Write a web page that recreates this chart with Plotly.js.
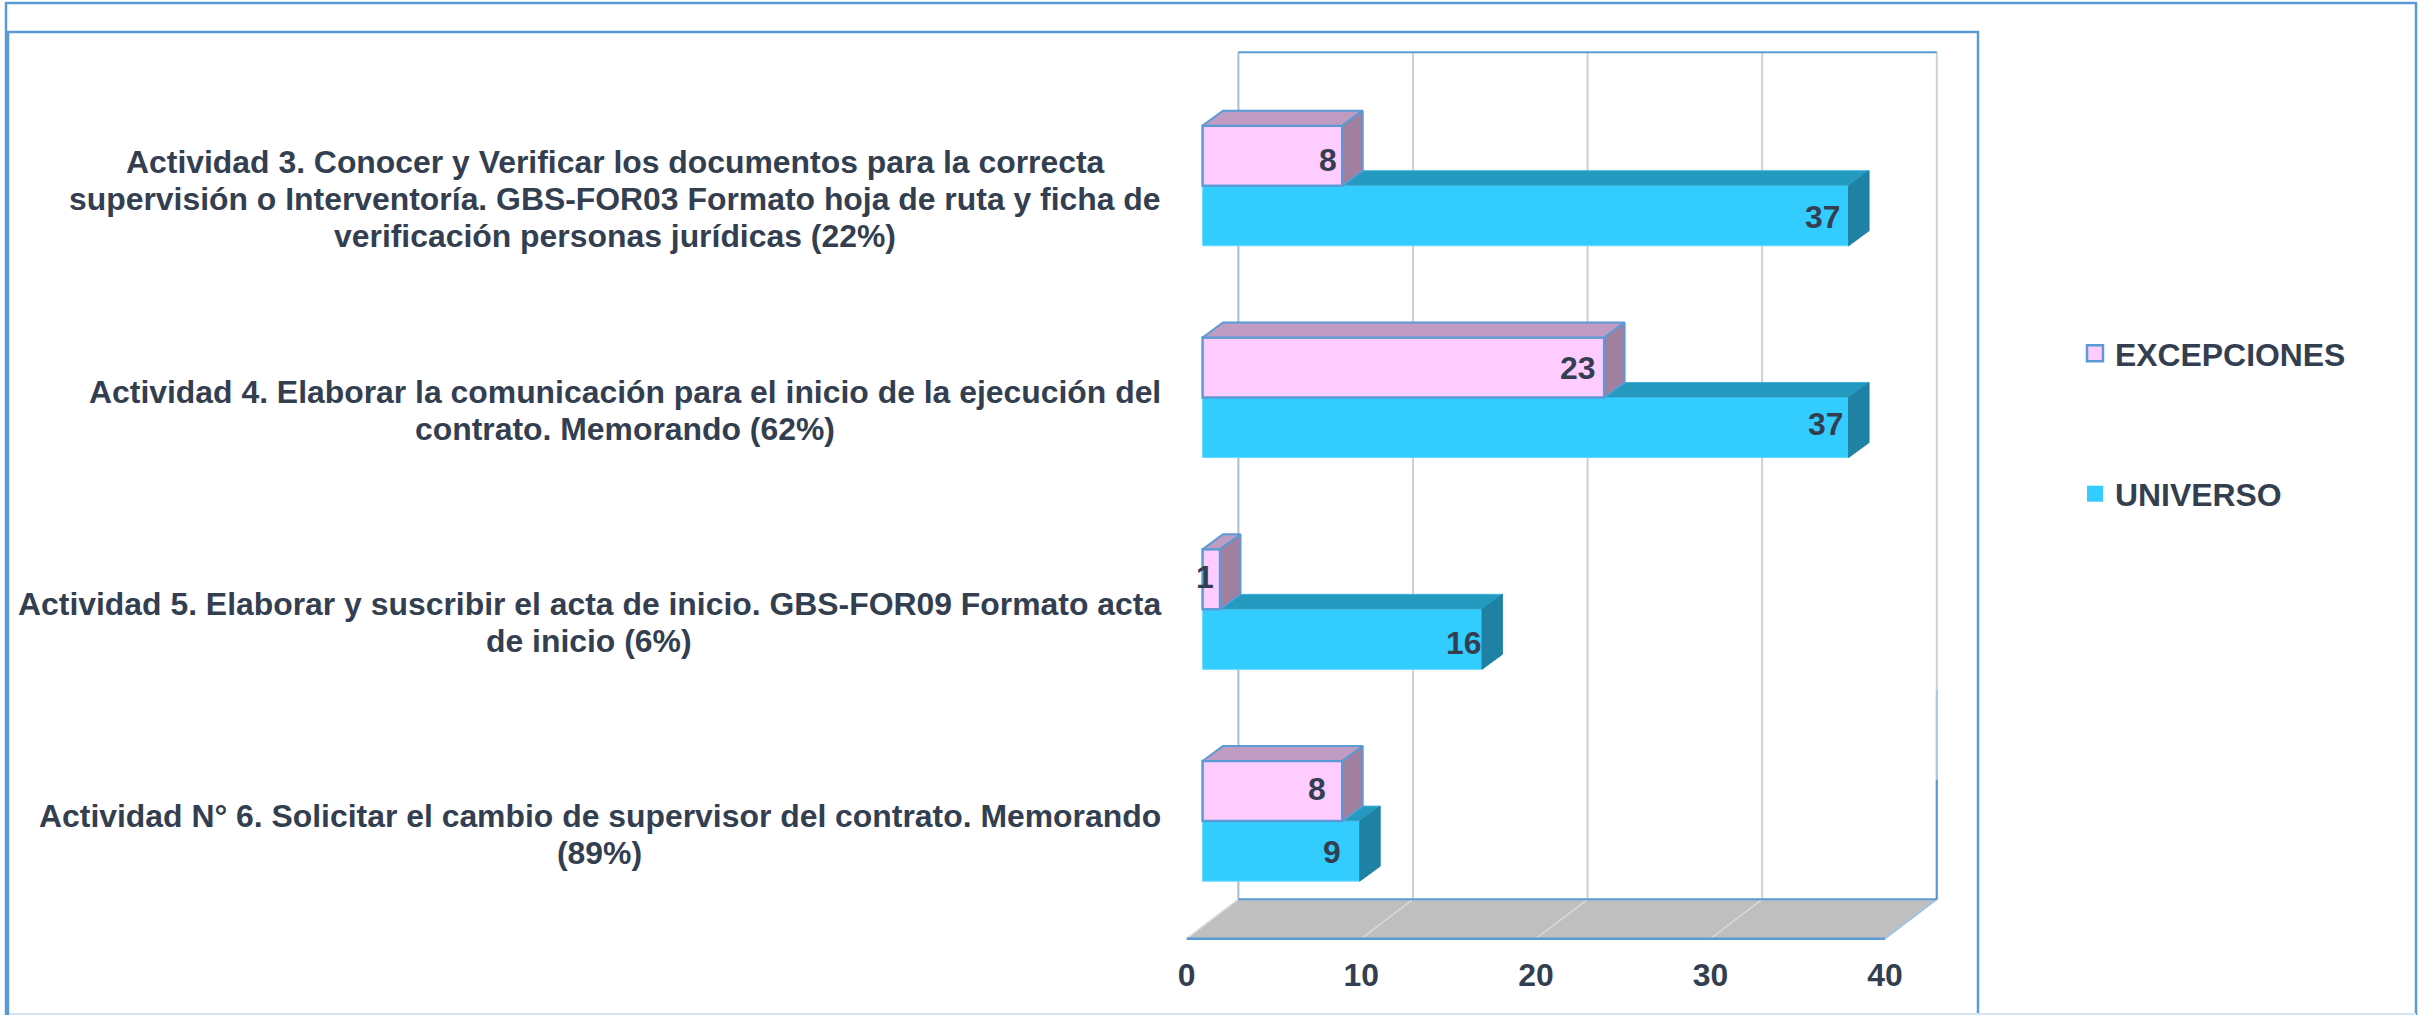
<!DOCTYPE html>
<html><head><meta charset="utf-8"><script src="https://cdn.plot.ly/plotly-3.0.1.min.js"></script>
<style>html,body{margin:0;padding:0;background:#fff;overflow:hidden}#c{width:2430px;height:1015px}</style></head>
<body><div id="c"></div><script>
const categories = [
  "Actividad 3. Conocer y Verificar los documentos para la correcta<br>supervisión o Interventoría. GBS-FOR03 Formato hoja de ruta y ficha de<br>verificación personas jurídicas (22%)",
  "Actividad 4. Elaborar la comunicación para el inicio de la ejecución del<br>contrato. Memorando (62%)",
  "Actividad 5. Elaborar y suscribir el acta de inicio. GBS-FOR09 Formato acta<br>de inicio (6%)",
  "Actividad N° 6. Solicitar el cambio de supervisor del contrato. Memorando<br>(89%)"
];
const excepciones = [8, 23, 1, 8];
const universo = [37, 37, 16, 9];
const xTicks = [0, 10, 20, 30, 40];

// page geometry (px) and 3D look
const W=2430,H=1015,L=1182,R=1942,T=46,B=946;
const pxX=17.46,pxY=211.8,x0px=1186.7,y0px=185.7;
const toX=p=>(p-x0px)/pxX, toY=p=>(p-y0px)/pxY;
const barBase=0.91,barW=0.2835,depthX=1.17,depthY=0.0708;
const wallX=2.96,yFront=toY(938.7),yBack=toY(899.3),yTop=toY(52.3);
const ink='#333f50',blue='#5b9bd5';
const pX=p=>(p-L)/(R-L), pY=p=>(B-p)/(B-T);
const idx=categories.map((_,i)=>i);

function faces(vals,yOff){ // yOff: top edge of the bar relative to category centre
  const top={x:[],y:[]},side={x:[],y:[]};
  vals.forEach((v,i)=>{
    const y1=i+yOff,y2=y1+barW,x1=barBase,x2=barBase+v;
    top.x.push(x1,x2,x2+depthX,x1+depthX,x1,null);
    top.y.push(y1,y1,y1-depthY,y1-depthY,y1,null);
    side.x.push(x2,x2+depthX,x2+depthX,x2,x2,null);
    side.y.push(y1,y1-depthY,y2-depthY,y2,y1,null);
  });
  return {top,side};
}
function poly(d,color,line,lw,xa,ya){
  return {type:'scatter',mode:'lines',x:d.x,y:d.y,fill:'toself',fillcolor:color,
    line:{color:line,width:lw},hoverinfo:'skip',showlegend:false,xaxis:xa,yaxis:ya};
}
const fU=faces(universo,0),fE=faces(excepciones,-barW);
const traces=[
  poly(fU.top,'#259ac0','#3fb4dc',1,'x','y'),
  poly(fU.side,'#1f81a3','#1f81a3',1,'x','y'),
  {type:'bar',orientation:'h',name:'UNIVERSO',x:universo,y:idx,base:barBase,width:barW,offset:0,
   marker:{color:'#33ccff',line:{color:'#66d9ff',width:1}},showlegend:false,hovertext:categories,xaxis:'x',yaxis:'y'},
  poly(fE.top,'#c09bc2',blue,2,'x2','y2'),
  poly(fE.side,'#a07f9f',blue,2,'x2','y2'),
  {type:'bar',orientation:'h',name:'EXCEPCIONES',x:excepciones,y:idx,base:barBase,width:barW,offset:-barW,
   marker:{color:'#ffccff',line:{color:blue,width:2.5}},showlegend:false,hovertext:categories,xaxis:'x2',yaxis:'y2'},
  {type:'scatter',mode:'markers',name:'EXCEPCIONES',x:[null],y:[null],legendgroup:'a',
   marker:{symbol:'square',size:16,color:'#ffccff',line:{color:blue,width:2.5}}},
  {type:'scatter',mode:'markers',name:'UNIVERSO',x:[null],y:[null],legendgroup:'b',
   marker:{symbol:'square',size:16,color:'#33ccff'}}
];

const shapes=[];
const rect=(x1,y1,x2,y2,c,w)=>shapes.push({type:'rect',xref:'paper',yref:'paper',x0:pX(x1),x1:pX(x2),y0:pY(y1),y1:pY(y2),line:{color:c,width:w},fillcolor:'rgba(0,0,0,0)',layer:'below'});
const ln=(x1,y1,x2,y2,c,w)=>shapes.push({type:'line',xref:'x',yref:'y',x0:x1,x1:x2,y0:y1,y1:y2,line:{color:c,width:w},layer:'below'});
rect(6,3,2416,1030,blue,2.5);
rect(8,32,1978,1030,blue,2.5);
shapes.push({type:'line',xref:'paper',yref:'paper',x0:pX(9),x1:pX(2416),y0:pY(1014),y1:pY(1014),line:{color:'#d3e5f5',width:2},layer:'below'});
// floor
shapes.push({type:'path',xref:'x',yref:'y',layer:'below',fillcolor:'#bfbfbf',line:{width:0},
  path:`M ${xTicks[0]} ${yFront} L ${xTicks[4]} ${yFront} L ${xTicks[4]+wallX} ${yBack} L ${xTicks[0]+wallX} ${yBack} Z`});
xTicks.forEach((t,i)=>{
  const c=i===0?'#a9bccf':'#d0d0d0';
  ln(t+wallX,yTop,t+wallX,yBack,c,2);
  ln(t,yFront,t+wallX,yBack,i===4?'#9cc3e6':'#d9d9d9',1.5);
});
ln(xTicks[4]+wallX,toY(690),xTicks[4]+wallX,yBack,'#a9c6e4',2);
ln(xTicks[4]+wallX,toY(780),xTicks[4]+wallX,yBack,blue,2);
ln(xTicks[0]+wallX,yTop,xTicks[4]+wallX,yTop,blue,2);
ln(xTicks[0]+wallX,yBack,xTicks[4]+wallX,yBack,blue,2);
ln(xTicks[0],yFront,xTicks[4],yFront,blue,2.5);

const bold={family:'"Liberation Sans",Arial,sans-serif',size:31.9,color:ink,weight:700};
const annotations=[];
const ctx=document.createElement('canvas').getContext('2d');
ctx.font='700 31.9px "Liberation Sans"';
const lineGap=37,labelRight=1161,labelDrop=13;
categories.forEach((c,i)=>{
  const lines=c.split('<br>');
  const cx=labelRight-Math.max(...lines.map(s=>ctx.measureText(s).width))/2;
  lines.forEach((s,j)=>annotations.push({text:s,xref:'paper',yref:'y',x:pX(cx),y:i,xanchor:'center',yanchor:'middle',
    showarrow:false,yshift:-labelDrop-(j-(lines.length-1)/2)*lineGap,font:bold}));
});
const excShift=[[-3,-4.3],[-7,-1],[-4,2],[-14.4,2.3]];
const uniShift=[[-7,-1.7],[-4,4],[0.7,-4],[-17,-0.4]];
const lab=(vals,off,sh)=>vals.forEach((v,i)=>annotations.push({text:String(v),xref:'x',yref:'y',x:barBase+v,y:i+off,
  xanchor:'right',yanchor:'middle',showarrow:false,xshift:sh[i][0],yshift:sh[i][1],font:bold}));
lab(excepciones,-barW/2,excShift);
lab(universo,barW/2,uniShift);

const xr=[toX(L),toX(R)],yr=[toY(B),toY(T)];
const layout={width:W,height:H,margin:{l:L,r:W-R,t:T,b:H-B,pad:0,autoexpand:false},
  paper_bgcolor:'#fff',plot_bgcolor:'rgba(0,0,0,0)',showlegend:true,
  xaxis:{range:xr,tickmode:'array',tickvals:xTicks,showgrid:false,zeroline:false,showline:false,
    ticks:'outside',ticklen:1,tickcolor:'rgba(0,0,0,0)',tickfont:bold},
  yaxis:{range:yr,showticklabels:false,showgrid:false,zeroline:false,showline:false,ticks:''},
  xaxis2:{range:xr,overlaying:'x',visible:false},
  yaxis2:{range:yr,overlaying:'y',visible:false},
  legend:{x:pX(2075),y:pY(326),xanchor:'left',yanchor:'top',tracegroupgap:96,font:bold,bgcolor:'rgba(0,0,0,0)',
    itemclick:false,itemdoubleclick:false},
  shapes,annotations};
Plotly.newPlot('c',traces,layout,{displayModeBar:false,staticPlot:true});
</script></body></html>
